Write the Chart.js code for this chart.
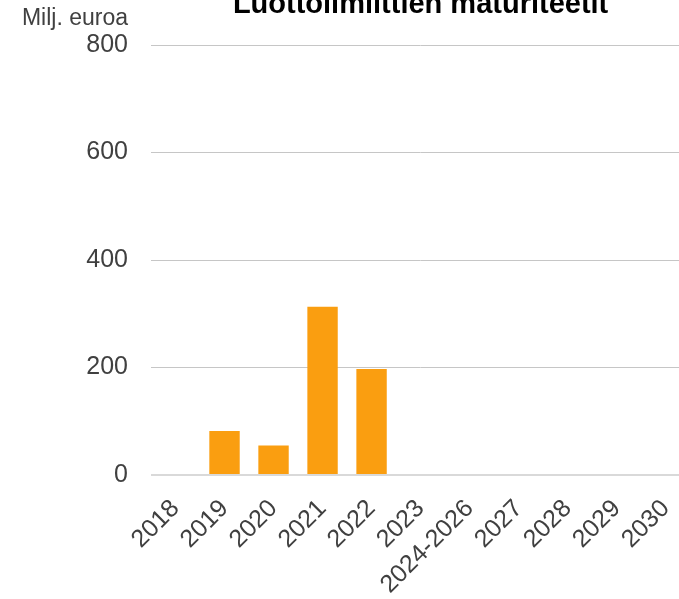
<!DOCTYPE html>
<html>
<head>
<meta charset="utf-8">
<script src="https://cdn.jsdelivr.net/npm/chart.js@4.4.1/dist/chart.umd.min.js"></script>
<style>
  html, body { margin: 0; padding: 0; background: #fff; overflow: hidden; }
  #wrap { position: absolute; left: 0; top: 0; width: 698px; height: 599px; }
</style>
</head>
<body>
<div id="wrap"><canvas id="chart" width="698" height="599"></canvas></div>
<script>
// Luottolimiittien maturiteetit
const years = ['2018', '2019', '2020', '2021', '2022', '2023', '2024-2026', '2027', '2028', '2029', '2030'];
const maturities = [0, 82, 55, 313, 197, 0, 0, 0, 0, 0, 0];
const yTicks = [0, 200, 400, 600, 800];

const chartTitle = 'Luottolimiittien maturiteetit';
const unitLabel = 'Milj. euroa';

const textColor = '#404040';
const font = 'Liberation Sans, Arial, sans-serif';

// title and unit text sit above the plot
const headerText = {
  id: 'headerText',
  afterDraw(chart) {
    const ctx = chart.ctx;
    const area = chart.chartArea;
    ctx.save();
    ctx.fillStyle = '#000';
    ctx.font = 'bold 29px ' + font;
    ctx.textAlign = 'center';
    ctx.textBaseline = 'alphabetic';
    ctx.fillText(chartTitle, (area.left + area.right) / 2, area.top - 32);
    ctx.fillStyle = textColor;
    ctx.font = '23px ' + font;
    ctx.textAlign = 'right';
    ctx.fillText(unitLabel, 128, area.top - 20);
    ctx.restore();
  }
};

new Chart(document.getElementById('chart'), {
  type: 'bar',
  data: {
    labels: years,
    datasets: [{
      data: maturities,
      backgroundColor: '#FA9E10',
      barPercentage: 0.62,
      categoryPercentage: 1
    }]
  },
  options: {
    responsive: false,
    animation: false,
    layout: { padding: { left: 0, top: 45, right: 3, bottom: 0 } },
    plugins: {
      legend: { display: false },
      tooltip: { enabled: false }
    },
    scales: {
      x: {
        afterFit: axis => { axis.height = 124; },
        grid: { display: false },
        border: { display: false },
        ticks: {
          color: textColor,
          font: { family: font, size: 25 },
          maxRotation: 45,
          minRotation: 45,
          autoSkip: false,
          padding: 11
        }
      },
      y: {
        min: 0,
        max: 800,
        afterFit: axis => { axis.width = 151; },
        afterBuildTicks: axis => { axis.ticks = yTicks.map(v => ({ value: v })); },
        border: { display: false },
        grid: {
          drawTicks: false,
          color: ctx => ctx.tick && ctx.tick.value === 0 ? '#d9d9d9' : '#c6c6c6',
          lineWidth: ctx => ctx.tick && ctx.tick.value === 0 ? 2 : 1
        },
        ticks: {
          color: textColor,
          font: { family: font, size: 25 },
          padding: 23
        }
      }
    }
  },
  plugins: [headerText]
});
</script>
</body>
</html>
